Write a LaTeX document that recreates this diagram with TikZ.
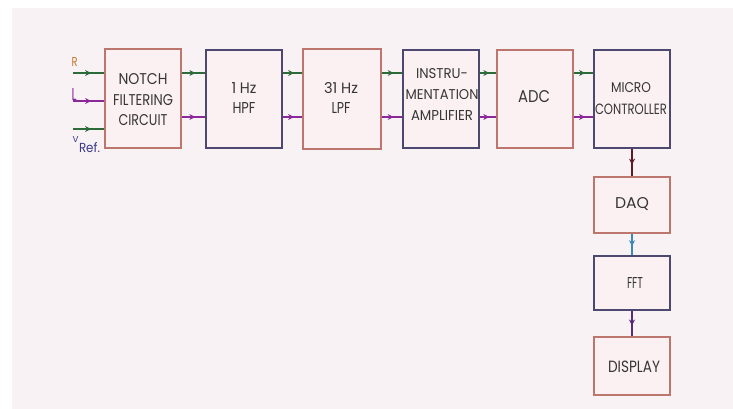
\documentclass[tikz,border=0pt]{standalone}
\usepackage{fontspec}
\setmainfont{Poppins}
\usetikzlibrary{decorations.markings,arrows.meta}
\definecolor{bg}{HTML}{F8F2F4}
\definecolor{boxfill}{HTML}{FCF1F2}
\definecolor{redb}{HTML}{BC766E}
\definecolor{blueb}{HTML}{4C4870}
\definecolor{txt}{HTML}{363636}
\definecolor{gr}{HTML}{2E6B3A}
\definecolor{pu}{HTML}{8A2A9A}
\definecolor{maroon}{HTML}{5E1A26}
\definecolor{cyanb}{HTML}{3A8AB8}
\definecolor{pud}{HTML}{5A2A7A}
\definecolor{orng}{HTML}{C8742A}
\definecolor{vref}{HTML}{3A3A8A}
\newcommand{\tl}[3]{\resizebox{#1pt}{#2pt}{#3}}
\tikzset{
  x=1pt,y=-1pt,
  blk/.style={draw, line width=1.6pt, fill=boxfill, inner sep=0pt},
  rb/.style={blk, draw=redb},
  bb/.style={blk, draw=blueb},
  lbl/.style={text=txt, align=center, inner sep=0pt},
  midarrow/.style={line width=2pt, postaction={decorate}, decoration={markings,
    mark=at position 0.58 with {\arrow{Stealth[length=6pt,width=6pt]}}}},
  gline/.style={midarrow, draw=gr},
  pline/.style={midarrow, draw=pu},
}
\begin{document}
\begin{tikzpicture}
\useasboundingbox (0,0) rectangle (733,409);
\fill[bg] (12,8) rectangle (733,409);
% boxes
\node[rb, minimum width=76pt, minimum height=99pt] (notch) at (143,98.5) {};
\node[bb, minimum width=76pt, minimum height=98pt] (hpf) at (244,99) {};
\node[rb, minimum width=78pt, minimum height=100pt] (lpf) at (342,99) {};
\node[bb, minimum width=76pt, minimum height=98pt] (ins) at (441,99) {};
\node[rb, minimum width=76pt, minimum height=98pt] (adc) at (535,99) {};
\node[bb, minimum width=76pt, minimum height=98pt] (mic) at (632,99) {};
\node[rb, minimum width=76pt, minimum height=56pt] (daq) at (632,205) {};
\node[bb, minimum width=76pt, minimum height=54pt] (fft) at (632,283) {};
\node[rb, minimum width=76pt, minimum height=58pt] (disp) at (632,366) {};
% texts
\node[lbl, font=\fontsize{10}{20.5}\selectfont] (tnotch) at (143,99.7) {\tl{49}{11}{NOTCH}\\\tl{60}{11}{FILTERING}\\\tl{49}{11}{CIRCUIT}};
\node[lbl, font=\fontsize{10}{20}\selectfont] (thpf) at (244,97.5) {\tl{25}{11}{1 Hz}\\\tl{23}{11}{HPF}};
\node[lbl, font=\fontsize{10}{20}\selectfont] (tlpf) at (341,97.5) {\tl{34}{11}{31 Hz}\\\tl{19}{11}{LPF}};
\node[lbl, font=\fontsize{10}{21}\selectfont] (tins) at (442,94.5) {\tl{52}{10}{INSTRU-}\\\tl{73}{10}{MENTATION}\\\tl{62}{10}{AMPLIFIER}};
\node[lbl] (tadc) at (534,97) {\tl{32}{12}{ADC}};
\node[lbl, font=\fontsize{10}{21.5}\selectfont] (tmic) at (631,98.8) {\tl{40}{10}{MICRO}\\\tl{72}{10.5}{CONTROLLER}};
\node[lbl] (tdaq) at (632,204) {\tl{34}{11}{DAQ}};
\node[lbl] (tfft) at (635,283) {\tl{16}{11}{FFT}};
\node[lbl] (tdisp) at (634,367) {\tl{52}{11.5}{DISPLAY}};
% inputs
\coordinate (r0) at (73,73);
\coordinate (l0) at (73,101);
\coordinate (v0) at (73,129);
\draw[gline] (r0) -- (r0 -| notch.west);
\draw[pline] (l0) -- (l0 -| notch.west);
\draw[gline] (v0) -- (v0 -| notch.west);
\node[text=orng, inner sep=0pt] (lr) at (74.5,62.5) {\tl{6}{9}{R}};
\node[text=pu, inner sep=0pt] (ll) at (74,94.5) {\tl{5}{12}{L}};
\node[text=vref, inner sep=0pt] (lv) at (75.5,139.5) {\tl{6}{6}{V}};
\node[text=vref, inner sep=0pt] (lvs) at (89.5,148) {\tl{21}{10}{Ref.}};
% horizontal connectors
\foreach \a/\b in {notch/hpf, hpf/lpf, lpf/ins, ins/adc, adc/mic}{
  \draw[gline] (\a.east |- r0) -- (\b.west |- r0);
  \draw[pline] (\a.east |- 0,117) -- (\b.west |- 0,117);
}
% vertical connectors
\draw[midarrow, draw=maroon] (mic.south) -- (daq.north);
\draw[midarrow, draw=cyanb] (daq.south) -- (fft.north);
\draw[midarrow, draw=pud] (fft.south) -- (disp.north);
\end{tikzpicture}
\end{document}
